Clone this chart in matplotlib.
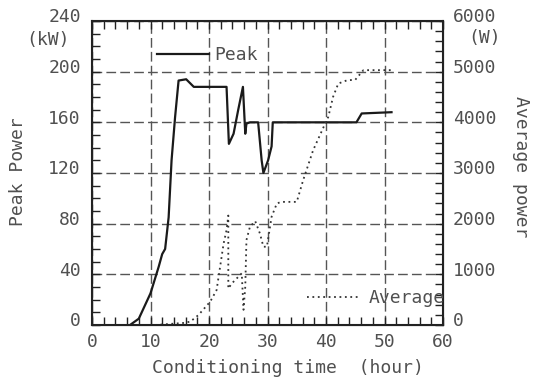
import matplotlib
matplotlib.use("Agg")
import matplotlib.pyplot as plt
import matplotlib.transforms as mtrans
from matplotlib.ticker import MultipleLocator

# Peak power (kW) vs conditioning time (hour)
peak_t = [6.5, 8.0, 10.0, 11.4, 12.0, 12.5, 13.1, 13.6, 14.2, 14.8, 16.1, 17.4, 23.0, 23.4,
          24.2, 25.0, 25.8, 26.2, 26.4, 27.0, 28.4, 29.0, 29.3, 30.1, 30.7, 30.9, 45.2, 46.1, 51.2]
peak_kw = [0, 5, 25, 46, 56, 60, 85, 130, 164, 193, 194, 188, 188, 143,
           151, 170, 188, 151, 159, 160, 160, 130, 120, 130, 141, 160, 160, 167, 168]

# Average power (W) vs conditioning time (hour)
avg_t = [10.8, 15.6, 16.8, 18.2, 20.2, 21.3, 21.9, 22.5, 23.0, 23.3, 23.3, 23.9, 25.0, 25.6,
         25.9, 26.2, 26.4, 27.0, 27.9, 28.7, 29.3, 29.9, 30.7, 31.6, 32.4, 35.0, 36.1, 37.8,
         39.6, 40.4, 41.2, 42.1, 43.6, 45.0, 46.4, 51.2]
avg_w = [0, 40, 66, 197, 460, 690, 1150, 1610, 1873, 2160, 720, 820, 950, 1020,
         300, 756, 1676, 1940, 2050, 1807, 1545, 1545, 2136, 2400, 2430, 2430, 2860, 3450,
         3910, 4110, 4500, 4765, 4830, 4840, 5030, 5030]

TXT = '#505050'
FS = 13
plt.rcParams['font.family'] = ['DejaVu Sans Mono', 'DejaVu Sans']
fig = plt.figure(figsize=(5.34, 3.83), dpi=100)
W, H = 534, 383
ax = fig.add_axes([92/W, 1-325/H, (443-92)/W, (325-21)/H])
ax2 = ax.twinx()

ax.plot(peak_t, peak_kw, color='#1a1a1a', lw=1.6, label='Peak')
ax2.plot(avg_t, avg_w, color='#333333', lw=1.3, ls=(0, (1, 2)), label='Average')

ax.set_xlim(0, 60)
ax.set_ylim(0, 240)
ax2.set_ylim(0, 6000)
ax.xaxis.set_major_locator(MultipleLocator(10))
ax.xaxis.set_minor_locator(MultipleLocator(2))
ax.yaxis.set_major_locator(MultipleLocator(40))
ax.yaxis.set_minor_locator(MultipleLocator(10))
ax2.yaxis.set_major_locator(MultipleLocator(1000))
ax2.yaxis.set_minor_locator(MultipleLocator(200))

ax.grid(True, which='major', color='#555555', ls=(0, (7, 3)), lw=1.0)
ax.tick_params(axis='x', which='both', direction='in', top=True, labelsize=FS,
               labelcolor=TXT, pad=6, color='#222222')
ax.tick_params(axis='y', which='both', direction='in', labelsize=FS, labelcolor=TXT, pad=8,
               color='#222222')
ax.tick_params(which='major', length=6, width=1)
ax.tick_params(which='minor', length=6, width=1)
ax2.tick_params(axis='y', which='both', direction='in', labelsize=FS, labelcolor=TXT, pad=7,
                color='#222222')
ax2.tick_params(which='major', length=6, width=1)
ax2.tick_params(which='minor', length=6, width=1)
for sp in ax2.spines.values():
    sp.set_linewidth(1.5)
    sp.set_color('#222222')

# y tick labels sit slightly above their ticks in the reference
up = mtrans.ScaledTranslation(0, 0.055, fig.dpi_scale_trans)
for lab in ax.get_yticklabels() + ax2.get_yticklabels():
    lab.set_transform(lab.get_transform() + up)

fig.text(288/W, 1-368/H, 'Conditioning time  (hour)', fontsize=FS, color=TXT,
         ha='center', va='center')
fig.text(18/W, 1-172/H, 'Peak Power', fontsize=FS, color=TXT, ha='center', va='center',
         rotation=90)
fig.text(521/W, 1-167/H, 'Average power', fontsize=FS, color=TXT, ha='center',
         va='center', rotation=270)

fig.text(48/W, 1-40/H, '(kW)', fontsize=FS, color=TXT, ha='center', va='center')
fig.text(485/W, 1-38/H, '(W)', fontsize=FS, color=TXT, ha='center', va='center')

fig.legend(handles=[ax.lines[0]], loc='center left',
           bbox_to_anchor=(157/W, 1-55/H), frameon=False, fontsize=FS,
           handlelength=2.9, handletextpad=0.28, borderpad=0, borderaxespad=0,
           labelcolor=TXT)
fig.legend(handles=[ax2.lines[0]], loc='center right',
           bbox_to_anchor=(445/W, 1-298/H), frameon=False, fontsize=FS,
           handlelength=2.9, handletextpad=0.5, borderpad=0, borderaxespad=0,
           labelcolor=TXT)

fig.savefig('out.png', dpi=100)
